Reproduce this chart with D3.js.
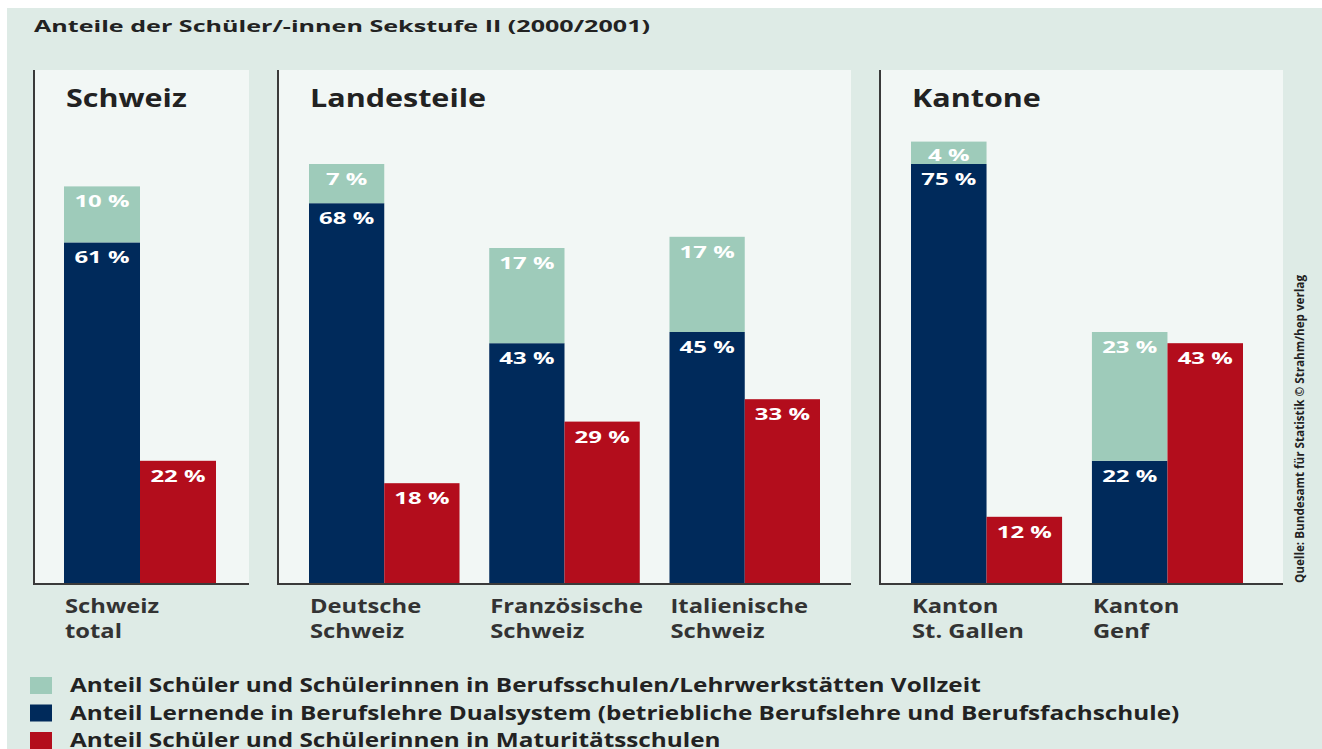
<!DOCTYPE html>
<html>
<head>
<meta charset="utf-8">
<style>
body { margin: 0; background: #fff; }
svg text { font-family: "Open Sans", sans-serif; font-weight: 700; }
</style>
</head>
<body>
<svg width="1322" height="749"></svg>
<script src="https://cdn.jsdelivr.net/npm/d3@7"></script>
<script>
// ---- data ----
var title = "Anteile der Schüler/-innen Sekstufe II (2000/2001)";
var panelNames = ["Schweiz", "Landesteile", "Kantone"];
var categories = [
  ["Schweiz", "total"],
  ["Deutsche", "Schweiz"],
  ["Französische", "Schweiz"],
  ["Italienische", "Schweiz"],
  ["Kanton", "St. Gallen"],
  ["Kanton", "Genf"]
];
var categoryPanel = [0, 1, 1, 1, 2, 2];
var vollzeit   = [10, 7, 17, 17, 4, 23];   // Berufsschulen/Lehrwerkstätten Vollzeit
var dualsystem = [61, 68, 43, 45, 75, 22]; // Berufslehre Dualsystem
var maturitaet = [22, 18, 29, 33, 12, 43]; // Maturitätsschulen
var seriesNames = [
  "Anteil Schüler und Schülerinnen in Berufsschulen/Lehrwerkstätten Vollzeit",
  "Anteil Lernende in Berufslehre Dualsystem (betriebliche Berufslehre und Berufsfachschule)",
  "Anteil Schüler und Schülerinnen in Maturitätsschulen"
];
var source = "Quelle: Bundesamt für Statistik © Strahm/hep verlag";

// ---- layout ----
var colors = {vollzeit: "#9ecbba", dual: "#002a5b", matur: "#b30d1c"};
var panelBox = [[34, 249], [278, 851], [880, 1283]];
var groupRange = [[64, 216], [309, 820], [911, 1243]];
var panelTop = 70, base = 584;

// the original lettering is wide; stretch the glyphs horizontally
function place(x, y, sx) {
  return "translate(" + x + "," + y + ") scale(" + sx + ",1)";
}

var svg = d3.select("svg");

svg.append("rect")
    .attr("x", 7).attr("y", 8)
    .attr("width", 1315).attr("height", 741)
    .attr("fill", "#deebe6");

svg.append("text")
    .attr("transform", place(34, 32, 1.57))
    .attr("font-size", 16)
    .attr("fill", "#222")
    .text(title);

var y = d3.scaleLinear().domain([0, 100]).range([base, base - 560]);

var rows = categories.map(function(c, i) {
  return {name: c, panel: categoryPanel[i], key: "c" + i,
          vollzeit: vollzeit[i], dual: dualsystem[i], matur: maturitaet[i]};
});

var stack = d3.stack().keys(["dual", "vollzeit"]);

panelNames.forEach(function(pn, p) {
  var box = panelBox[p];
  var g = svg.append("g");

  g.append("rect")
      .attr("x", box[0]).attr("y", panelTop)
      .attr("width", box[1] - box[0]).attr("height", base - panelTop)
      .attr("fill", "#f2f7f5");

  g.append("text")
      .attr("transform", place(box[0] + 32, 107, 1.22))
      .attr("font-size", 25)
      .attr("fill", "#222")
      .text(pn);

  var data = rows.filter(function(d) { return d.panel === p; });

  var x = d3.scaleBand()
      .domain(data.map(function(d) { return d.key; }))
      .range(groupRange[p])
      .paddingInner(data.length > 1 ? 0.165 : 0)
      .paddingOuter(0);

  var xi = d3.scaleBand()
      .domain(["left", "right"])
      .range([0, x.bandwidth()]);

  var grp = g.selectAll(".grp")
    .data(data)
    .enter().append("g")
      .attr("class", "grp")
      .attr("transform", function(d) { return "translate(" + x(d.key) + ",0)"; });

  // stacked left bar (Dualsystem + Vollzeit on top)
  grp.each(function(d) {
    var sel = d3.select(this);
    stack([d]).forEach(function(layer) {
      var seg = layer[0];
      var h = y(seg[0]) - y(seg[1]);
      sel.append("rect")
          .attr("x", xi("left"))
          .attr("y", y(seg[1]))
          .attr("width", xi.bandwidth())
          .attr("height", h)
          .attr("fill", colors[layer.key]);
      sel.append("text")
          .attr("transform", place(xi("left") + xi.bandwidth() / 2, y(seg[1]) + Math.min(21, h - 3), 1.45))
          .attr("text-anchor", "middle")
          .attr("font-size", 16.5)
          .attr("fill", "#fff")
          .text(d[layer.key] + " %");
    });
  });

  // Maturität bar
  grp.append("rect")
      .attr("x", xi("right"))
      .attr("y", function(d) { return y(d.matur); })
      .attr("width", xi.bandwidth())
      .attr("height", function(d) { return base - y(d.matur); })
      .attr("fill", colors.matur);

  grp.append("text")
      .attr("transform", function(d) { return place(xi("right") + xi.bandwidth() / 2, y(d.matur) + 21, 1.45); })
      .attr("text-anchor", "middle")
      .attr("font-size", 16.5)
      .attr("fill", "#fff")
      .text(function(d) { return d.matur + " %"; });

  // category labels
  var lab = grp.append("text")
      .attr("transform", place(1, 0, 1.25))
      .attr("font-size", 19)
      .attr("fill", "#333");
  lab.append("tspan").attr("x", 0).attr("y", 613).text(function(d) { return d.name[0]; });
  lab.append("tspan").attr("x", 0).attr("y", 638).text(function(d) { return d.name[1]; });

  // panel frame: left and bottom lines
  g.append("path")
      .attr("d", "M" + box[0] + "," + panelTop + "V" + base + "H" + box[1])
      .attr("fill", "none")
      .attr("stroke", "#3a3a3a")
      .attr("stroke-width", 2);
});

// source, rotated
svg.append("text")
    .attr("transform", "translate(1304,583) rotate(-90)")
    .attr("font-family", "Liberation Sans Narrow, Roboto, sans-serif")
    .attr("font-size", 13)
    .attr("textLength", 308)
    .attr("lengthAdjust", "spacingAndGlyphs")
    .attr("fill", "#222")
    .text(source);

// legend
var legendColors = [colors.vollzeit, colors.dual, colors.matur];
var legend = svg.selectAll(".legend")
  .data(seriesNames)
  .enter().append("g")
    .attr("class", "legend")
    .attr("transform", function(d, i) { return "translate(30," + (677 + i * 27.5) + ")"; });

legend.append("rect")
    .attr("width", 22).attr("height", 17)
    .attr("fill", function(d, i) { return legendColors[i]; });

legend.append("text")
    .attr("transform", place(40, 15, 1.28))
    .attr("font-size", 19)
    .attr("fill", "#222")
    .text(function(d) { return d; });
</script>
</body>
</html>
